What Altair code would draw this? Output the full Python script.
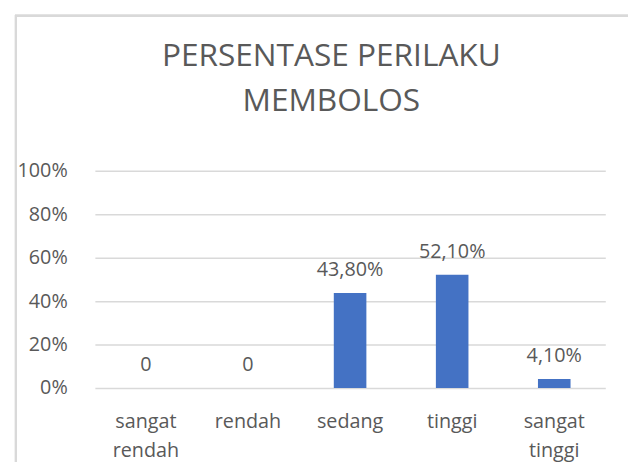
import altair as alt
import pandas as pd

categories = ["sangat rendah", "rendah", "sedang", "tinggi", "sangat tinggi"]
values = [0.0, 0.0, 0.438, 0.521, 0.041]
labels = ["0", "0", "43,80%", "52,10%", "4,10%"]
title_lines = ["PERSENTASE PERILAKU", "MEMBOLOS"]

df = pd.DataFrame({"kategori": categories, "nilai": values, "label": labels})

FONT = "Open Sans"
GREY = "#595959"

x = alt.X(
    "kategori:N",
    sort=categories,
    scale=alt.Scale(paddingInner=0, paddingOuter=0),
    axis=alt.Axis(
        title=None,
        labelAngle=0,
        domain=False,
        ticks=False,
        labelFont=FONT,
        labelFontSize=20,
        labelColor=GREY,
        labelPadding=24,
        labelLineHeight=29,
        labelExpr="split(datum.label, ' ')",
    ),
)
y = alt.Y(
    "nilai:Q",
    scale=alt.Scale(domain=[0, 1]),
    axis=alt.Axis(
        title=None,
        format=".0%",
        values=[0, 0.2, 0.4, 0.6, 0.8, 1.0],
        domain=False,
        ticks=False,
        labelFont=FONT,
        labelFontSize=20,
        labelColor=GREY,
        labelPadding=28,
        gridColor="#d9d9d9",
        gridWidth=1.5,
    ),
)

frame = alt.Chart(df).mark_rect(
    fill=None, stroke="#d9d9d9", strokeWidth=2
).encode(
    x=alt.value(-80), x2=alt.value(700), y=alt.value(-157), y2=alt.value(400)
)

bars = alt.Chart(df).mark_bar(size=33, color="#4472C4").encode(x=x, y=y)

text = alt.Chart(df).mark_text(
    baseline="alphabetic", dy=-17, font=FONT, fontSize=20, color=GREY
).encode(x=x, y=y, text="label:N")

chart = alt.layer(frame, bars, text).properties(
    width=517,
    height=220,
    autosize=alt.AutoSizeParams(type="none"),
    padding={"left": 88, "top": 162, "right": 23, "bottom": 72},
    title=alt.TitleParams(
        text=title_lines,
        font=FONT,
        fontSize=32,
        fontWeight="normal",
        color=GREY,
        lineHeight=45,
        anchor="middle",
        frame="group",
        dx=-19,
        offset=-104,
    ),
).configure_view(stroke=None)

chart.save("out.html", embed_options={"renderer": "svg", "actions": False})
